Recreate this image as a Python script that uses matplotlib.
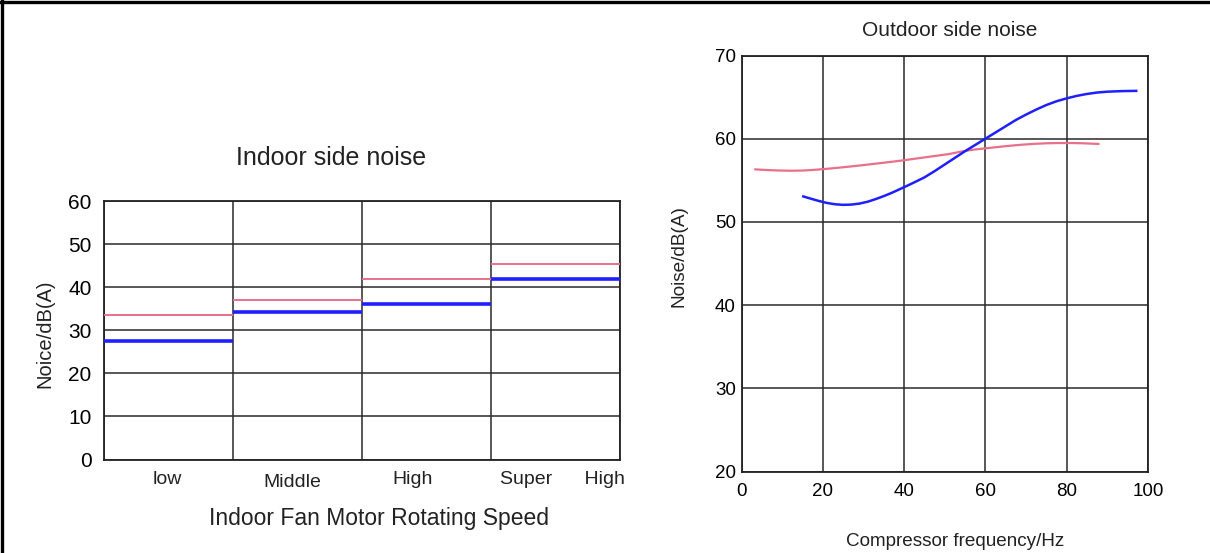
import matplotlib
matplotlib.use("Agg")
import matplotlib.pyplot as plt
from matplotlib.lines import Line2D

plt.rcParams["font.family"] = ["Liberation Sans", "DejaVu Sans"]

# Indoor unit: noise per fan speed step
speed_levels = ["low", "Middle", "High", "Super      High"]
indoor_pink = [33.5, 37.0, 42.0, 45.3]
indoor_blue = [27.5, 34.3, 36.0, 42.0]
indoor_yticks = [0, 10, 20, 30, 40, 50, 60]

# Outdoor unit: noise against compressor frequency
outdoor_blue_hz = [15.2, 17, 19, 21, 23, 25, 27, 29, 31, 33, 35, 37, 39, 41, 43, 45,
                   47.5, 50, 52.5, 55, 57.5, 60, 62.5, 65, 67.5, 70, 72.5, 75, 77.5,
                   80, 82.5, 85, 87.5, 90, 93.5, 97.1]
outdoor_blue_db = [53.06, 52.80, 52.52, 52.28, 52.12, 52.05, 52.08, 52.20, 52.42, 52.74,
                   53.10, 53.50, 53.95, 54.40, 54.87, 55.35, 56.10, 56.90, 57.70, 58.50,
                   59.25, 60.00, 60.75, 61.50, 62.25, 62.90, 63.50, 64.05, 64.50, 64.85,
                   65.15, 65.38, 65.55, 65.65, 65.72, 65.75]
outdoor_pink_hz = [3.4, 6, 9, 12, 15, 18, 21, 24, 27, 30, 33, 36, 39, 42, 45, 48, 51,
                   54, 57, 60, 63, 66, 69, 72, 75, 78, 81, 84, 87.8]
outdoor_pink_db = [56.31, 56.24, 56.18, 56.15, 56.17, 56.26, 56.38, 56.52, 56.67, 56.83,
                   57.00, 57.17, 57.35, 57.55, 57.75, 57.95, 58.15, 58.45, 58.68, 58.84,
                   59.00, 59.15, 59.28, 59.38, 59.45, 59.48, 59.48, 59.45, 59.37]
outdoor_xticks = [0, 20, 40, 60, 80, 100]
outdoor_yticks = [20, 30, 40, 50, 60, 70]

BLUE = "#1f1fff"
PINK = "#e8708a"
GRID = "#2a2a2a"
TEXT = "#222222"

W, H = 1210, 553
fig = plt.figure(figsize=(W / 100, H / 100), dpi=100)
fig.patch.set_facecolor("white")


def frac_box(x0, y0, x1, y1):
    return [x0 / W, 1 - y1 / H, (x1 - x0) / W, (y1 - y0) / H]


# ---- Indoor side noise ----
ax1 = fig.add_axes(frac_box(104, 201, 620, 459.5))
n = len(speed_levels)
ax1.set_xlim(0, n)
ax1.set_ylim(0, 60)
for i in range(n):
    ax1.hlines(indoor_pink[i], i, i + 1, color=PINK, lw=1.4, zorder=3)
    ax1.hlines(indoor_blue[i], i, i + 1, color=BLUE, lw=2.6, zorder=4)
ax1.set_yticks(indoor_yticks)
ax1.set_yticklabels([str(v) for v in indoor_yticks], fontsize=15)
ax1.set_xticks(range(n + 1))
ax1.set_xticklabels([])
ax1.grid(True, color=GRID, lw=1.1)
ax1.tick_params(length=0, pad=9)

# category names sit loosely under each column
label_x = [0.49, 1.46, 2.39, 3.55]
label_y = [-4.7, -5.4, -4.7, -4.7]
for lab, lx, ly in zip(speed_levels, label_x, label_y):
    ax1.text(lx, ly, lab, ha="center", va="center", fontsize=14, color=TEXT)

ax1.text(0.44, 1.165, "Indoor side noise", transform=ax1.transAxes,
         ha="center", va="center", fontsize=18, color=TEXT)
ax1.set_xlabel("Indoor Fan Motor Rotating Speed", fontsize=16.5, color=TEXT)
ax1.xaxis.set_label_coords(0.533, -0.185)
ax1.set_ylabel("Noice/dB(A)", fontsize=14.5, color=TEXT)
ax1.yaxis.set_label_coords(-0.097, 0.487)
for s in ax1.spines.values():
    s.set_linewidth(1.3)
    s.set_color(TEXT)

# ---- Outdoor side noise ----
ax2 = fig.add_axes(frac_box(741.5, 55.5, 1148, 471.5))
ax2.plot(outdoor_pink_hz, outdoor_pink_db, color=PINK, lw=1.6, zorder=3)
ax2.plot(outdoor_blue_hz, outdoor_blue_db, color=BLUE, lw=1.8, zorder=4)
ax2.set_xlim(0, 100)
ax2.set_ylim(20, 70)
ax2.set_xticks(outdoor_xticks)
ax2.set_yticks(outdoor_yticks)
ax2.tick_params(axis="x", labelsize=13.5, length=0, pad=8)
ax2.tick_params(axis="y", labelsize=13.5, length=0, pad=4)
ax2.grid(True, color=GRID, lw=1.1)
ax2.text(0.513, 1.061, "Outdoor side noise", transform=ax2.transAxes,
         ha="center", va="center", fontsize=15, color=TEXT)
ax2.set_xlabel("Compressor frequency/Hz", fontsize=13.6, color=TEXT)
ax2.xaxis.set_label_coords(0.525, -0.148)
ax2.set_ylabel("Noise/dB(A)", fontsize=13.7, color=TEXT)
ax2.yaxis.set_label_coords(-0.132, 0.518)
for s in ax2.spines.values():
    s.set_linewidth(1.3)
    s.set_color(TEXT)

# page border (top and left edges)
fig.add_artist(Line2D([0.0015, 0.0015], [0, 1], transform=fig.transFigure, color="black", lw=2.4))
fig.add_artist(Line2D([0, 1], [0.997, 0.997], transform=fig.transFigure, color="black", lw=2.4))

fig.savefig("out.png", dpi=100, facecolor="white")
